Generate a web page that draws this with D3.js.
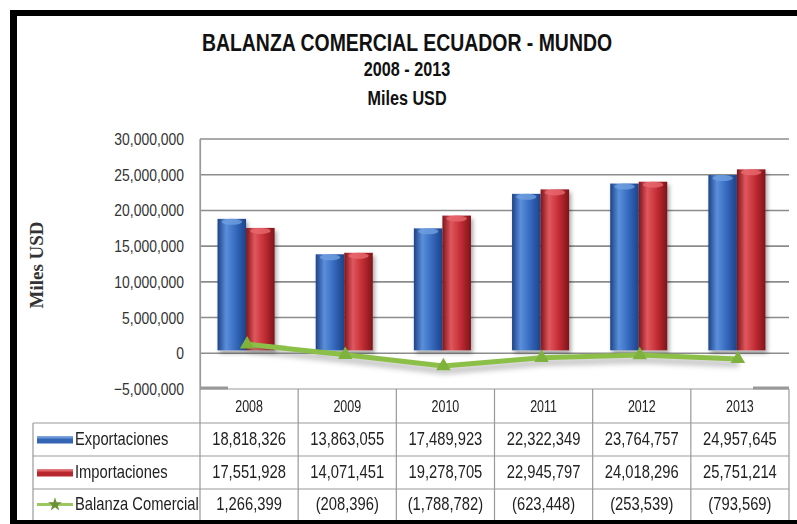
<!DOCTYPE html>
<html>
<head>
<meta charset="utf-8">
<script src="https://cdn.jsdelivr.net/npm/d3@7"></script>
<style>
  body { margin: 0; background: #fff; }
  svg text { font-family: "Liberation Sans", Arial, sans-serif; fill: #222; }
</style>
</head>
<body>
<svg width="797" height="524"></svg>
<script>
const years = ["2008", "2009", "2010", "2011", "2012", "2013"];
const exportaciones = [18818326, 13863055, 17489923, 22322349, 23764757, 24957645];
const importaciones = [17551928, 14071451, 19278705, 22945797, 24018296, 25751214];
const balanza = [1266399, -208396, -1788782, -623448, -253539, -793569];
const yTicks = [-5000000, 0, 5000000, 10000000, 15000000, 20000000, 25000000, 30000000];
const seriesNames = ["Exportaciones", "Importaciones", "Balanza Comercial"];

const svg = d3.select("svg"),
    width = +svg.attr("width"),
    height = +svg.attr("height");

const plot = {left: 200, right: 789, top: 139, bottom: 389};
const rowH = [389, 423, 456, 489, 520];
const legendLeft = 33;

const fmt = d3.format(",");
const fmtParen = (v) => v < 0 ? "(" + fmt(-v) + ")" : fmt(v);

// no narrow font installed, so squeeze the glyphs horizontally
function condense(sel, f) {
  sel.each(function () {
    const t = d3.select(this);
    const x0 = +t.attr("x") || 0;
    t.attr("x", x0 / f).attr("transform", `scale(${f},1)`);
  });
}

const x = d3.scaleBand().domain(years).range([plot.left, plot.right]);
const xInner = d3.scaleBand().domain([0, 1]).range([0, x.bandwidth()])
    .paddingInner(0).paddingOuter(0.72);
const y = d3.scaleLinear().domain([-5000000, 30000000]).range([plot.bottom, plot.top]);

const defs = svg.append("defs");
function barGradient(id, dark, base, light) {
  const gr = defs.append("linearGradient").attr("id", id)
      .attr("x1", "0%").attr("x2", "100%").attr("y1", "0%").attr("y2", "0%");
  gr.append("stop").attr("offset", "0%").attr("stop-color", dark);
  gr.append("stop").attr("offset", "30%").attr("stop-color", light);
  gr.append("stop").attr("offset", "65%").attr("stop-color", base);
  gr.append("stop").attr("offset", "100%").attr("stop-color", dark);
}
barGradient("gBlue", "#1d4286", "#3468bd", "#5a8fdb");
barGradient("gRed", "#7d151b", "#c22b33", "#e0575d");
const sh = defs.append("filter").attr("id", "shadow")
    .attr("x", "-30%").attr("y", "-30%").attr("width", "160%").attr("height", "160%");
sh.append("feDropShadow").attr("dx", 2).attr("dy", 3).attr("stdDeviation", 2)
    .attr("flood-color", "#000").attr("flood-opacity", 0.35);

// frame
svg.append("rect").attr("x", 10).attr("y", 10).attr("width", width - 10).attr("height", 6).attr("fill", "#000");
svg.append("rect").attr("x", 10).attr("y", 10).attr("width", 7).attr("height", height - 10).attr("fill", "#000");
svg.append("rect").attr("x", 10).attr("y", 520).attr("width", width - 10).attr("height", 4).attr("fill", "#000");

// titles
const titles = [
  {t: "BALANZA COMERCIAL ECUADOR - MUNDO", y: 51, s: 24},
  {t: "2008 - 2013", y: 76, s: 20},
  {t: "Miles USD", y: 105, s: 20}
];
svg.append("g").selectAll("text").data(titles).enter().append("text")
    .attr("x", 407).attr("y", (d) => d.y)
    .attr("text-anchor", "middle")
    .attr("font-weight", "bold")
    .attr("font-size", (d) => d.s)
    .style("fill", "#111")
    .text((d) => d.t)
    .call(condense, 0.81);

// y axis label
svg.append("text")
    .attr("transform", "translate(43,265) rotate(-90)")
    .attr("text-anchor", "middle")
    .style("font-family", "'Liberation Serif', 'Times New Roman', serif")
    .attr("font-weight", "bold")
    .attr("font-size", 19)
    .style("fill", "#333")
    .text("Miles USD");

// gridlines
svg.append("g").selectAll("line").data(yTicks.filter((d) => d > -5000000)).enter().append("line")
    .attr("x1", plot.left).attr("x2", plot.right)
    .attr("y1", (d) => y(d)).attr("y2", (d) => y(d))
    .attr("stroke", "#8c8c8c").attr("stroke-width", 1.6);

// y axis
const yAxis = svg.append("g")
    .attr("transform", `translate(${plot.left},0)`)
    .call(d3.axisLeft(y).tickValues(yTicks).tickFormat(fmt).tickSize(0).tickPadding(16));
yAxis.select(".domain").attr("stroke", "#999").attr("stroke-width", 1.2);
yAxis.selectAll("text").attr("font-size", 17).style("fill", "#333")
    .style("font-family", "'Liberation Sans', Arial, sans-serif")
    .call(condense, 0.82);

// floor stubs
svg.append("line").attr("x1", plot.left).attr("x2", plot.left + 28)
    .attr("y1", plot.bottom - 1).attr("y2", plot.bottom - 1).attr("stroke", "#999").attr("stroke-width", 3);
svg.append("line").attr("x1", plot.right - 36).attr("x2", plot.right)
    .attr("y1", plot.bottom - 1).attr("y2", plot.bottom - 1).attr("stroke", "#999").attr("stroke-width", 3);

// bars
const barData = [];
years.forEach((yr, i) => {
  barData.push({year: yr, k: 0, v: exportaciones[i], fill: "url(#gBlue)", cap: "#6f9fe0"});
  barData.push({year: yr, k: 1, v: importaciones[i], fill: "url(#gRed)", cap: "#e8696e"});
});
const bars = svg.append("g").attr("filter", "url(#shadow)")
    .selectAll("g").data(barData).enter().append("g")
    .attr("transform", (d) => `translate(${x(d.year) + xInner(d.k) - 3},0)`);
bars.append("rect")
    .attr("x", 0).attr("width", xInner.bandwidth())
    .attr("y", (d) => y(d.v)).attr("height", (d) => y(0) - 3 - y(d.v))
    .attr("fill", (d) => d.fill);
bars.append("ellipse")
    .attr("cx", xInner.bandwidth() / 2).attr("cy", (d) => y(d.v) + 3)
    .attr("rx", xInner.bandwidth() / 2 - 4).attr("ry", 3)
    .attr("fill", (d) => d.cap).attr("opacity", 0.8);

// balanza line
const lx = (i) => x(years[i]) + x.bandwidth() / 2 - 2;
const line = d3.line().x((d, i) => lx(i)).y((d) => y(d));
svg.append("path").datum(balanza)
    .attr("d", line).attr("fill", "none")
    .attr("stroke", "#777").attr("stroke-opacity", 0.4).attr("stroke-width", 7)
    .attr("transform", "translate(1,5)").style("filter", "blur(2.5px)");
svg.append("path").datum(balanza)
    .attr("d", line).attr("fill", "none")
    .attr("stroke", "#8cbf47").attr("stroke-width", 5);
svg.append("g").selectAll("path").data(balanza).enter().append("path")
    .attr("d", d3.symbol(d3.symbolTriangle, 90))
    .attr("transform", (d, i) => `translate(${lx(i)},${y(d)})`)
    .attr("fill", "#7fb23c");

// data table
const table = svg.append("g");
const cols = years.map((yr) => x(yr)).concat([plot.right]);
cols.forEach((cx) => {
  table.append("line").attr("x1", cx).attr("x2", cx)
      .attr("y1", cx === plot.left ? plot.top : rowH[0]).attr("y2", rowH[4])
      .attr("stroke", "#999").attr("stroke-width", 1.2);
});
table.append("line").attr("x1", legendLeft).attr("x2", legendLeft)
    .attr("y1", rowH[1]).attr("y2", rowH[4]).attr("stroke", "#999").attr("stroke-width", 1.2);
rowH.slice(0, 4).forEach((ry, r) => {
  table.append("line").attr("x1", r === 0 ? plot.left : legendLeft).attr("x2", plot.right)
      .attr("y1", ry).attr("y2", ry).attr("stroke", "#999").attr("stroke-width", 1.2);
});

table.selectAll("text.year").data(years).enter().append("text")
    .attr("class", "year")
    .attr("x", (d) => x(d) + x.bandwidth() / 2).attr("y", (rowH[0] + rowH[1]) / 2 + 6)
    .attr("text-anchor", "middle").attr("font-size", 16)
    .text((d) => d)
    .call(condense, 0.78);

const rows = [exportaciones, importaciones, balanza];
rows.forEach((vals, r) => {
  table.selectAll("text.r" + r).data(vals).enter().append("text")
      .attr("class", "r" + r)
      .attr("x", (d, i) => x(years[i]) + x.bandwidth() / 2)
      .attr("y", (rowH[r + 1] + rowH[r + 2]) / 2 + 6)
      .attr("text-anchor", "middle").attr("font-size", 18)
      .text((d) => fmtParen(d))
      .call(condense, 0.82);
  table.append("text")
      .attr("x", 75).attr("y", (rowH[r + 1] + rowH[r + 2]) / 2 + 6)
      .attr("font-size", 18)
      .text(seriesNames[r])
      .call(condense, 0.82);
});

// legend keys
[0, 1].forEach((r) => {
  const cy = (rowH[r + 1] + rowH[r + 2]) / 2;
  table.append("rect").attr("x", 37).attr("y", cy - 3).attr("width", 36).attr("height", 7)
      .attr("fill", r === 0 ? "#3465b5" : "#b8262e");
  table.append("rect").attr("x", 37).attr("y", cy - 3).attr("width", 36).attr("height", 2)
      .attr("fill", r === 0 ? "#6a98d8" : "#e0666b");
});
const gcy = (rowH[3] + rowH[4]) / 2;
table.append("line").attr("x1", 37).attr("x2", 73).attr("y1", gcy).attr("y2", gcy)
    .attr("stroke", "#9cc760").attr("stroke-width", 3);
table.append("path").attr("d", d3.symbol(d3.symbolStar, 60))
    .attr("transform", `translate(55,${gcy})`).attr("fill", "#6e8f3a");
</script>
</body>
</html>
